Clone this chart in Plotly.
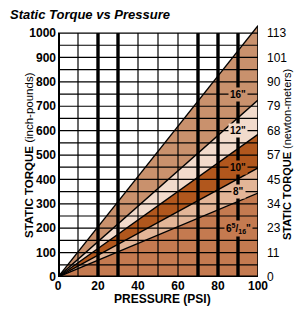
import plotly.graph_objects as go

# ---- data ----
pressure_psi = [0, 100]
sizes = ['16"', '12"', '10"', '8"', '6<sup>5</sup>/<sub>16</sub>"']
torque_at_100psi = [1030, 725, 585, 447, 344]          # in-lb at 100 psi
band_colors = ["#C9916D", "#F2DBCC", "#B1571D", "#E3B597", "#C47A50"]
label_psi = 90
label_torque = [750, 600, 450, 350, 200]
inlb_ticks = [0, 100, 200, 300, 400, 500, 600, 700, 800, 900, 1000]
nm_ticks = ["0", "11", "23", "34", "45", "57", "68", "79", "90", "101", "113"]
psi_ticks = [0, 20, 40, 60, 80, 100]
thin_v = [10, 40, 50, 60]
thick_v = [20, 30, 70, 80, 90]
h_grid = list(range(50, 1001, 50))

YMAX = 1033
SANS = "Liberation Sans, Arial, Helvetica"

fig = go.Figure()

# bands: draw from the bottom line upward
order = list(range(len(sizes)))[::-1]
for k, i in enumerate(order):
    fig.add_trace(go.Scatter(
        x=pressure_psi, y=[0, torque_at_100psi[i]],
        mode="lines", line=dict(color="black", width=1.4),
        fill="tozeroy" if k == 0 else "tonexty",
        fillcolor=band_colors[i], showlegend=False, hoverinfo="skip"))

# invisible trace for the right axis
fig.add_trace(go.Scatter(x=[None], y=[None], yaxis="y2", showlegend=False,
                         hoverinfo="skip"))

shapes = []
for y in h_grid:
    shapes.append(dict(type="line", layer="above", xref="x", yref="y",
                       x0=0, x1=100, y0=y, y1=y,
                       line=dict(color="black", width=1.2)))
for x in thin_v:
    shapes.append(dict(type="line", layer="above", xref="x", yref="y",
                       x0=x, x1=x, y0=0, y1=1000,
                       line=dict(color="black", width=1.2)))
for x in thick_v:
    shapes.append(dict(type="line", layer="above", xref="x", yref="y",
                       x0=x, x1=x, y0=0, y1=1000,
                       line=dict(color="black", width=3.4)))
# right border (up to top line end)
shapes.append(dict(type="line", layer="above", xref="x", yref="y",
                   x0=100, x1=100, y0=0, y1=torque_at_100psi[0],
                   line=dict(color="black", width=1.6)))
# left & bottom axes
shapes.append(dict(type="line", layer="above", xref="x", yref="y",
                   x0=0, x1=0, y0=0, y1=1000,
                   line=dict(color="black", width=4)))
shapes.append(dict(type="line", layer="above", xref="x", yref="y",
                   x0=0, x1=100, y0=0, y1=0,
                   line=dict(color="black", width=3)))

annotations = []
for i, s in enumerate(sizes):
    annotations.append(dict(x=label_psi, y=label_torque[i], xref="x", yref="y",
                            text=s, showarrow=False, bgcolor=band_colors[i],
                            borderpad=1,
                            font=dict(family=SANS, size=10, color="black", weight="bold")))
annotations += [
    dict(text="<b>STATIC TORQUE</b> (inch-pounds)", textangle=-90,
         xref="paper", yref="paper", x=-0.185, y=0.484, showarrow=False,
         font=dict(family=SANS, size=11.5, color="black")),
    dict(text="<b>STATIC TORQUE</b> (newton-meters)", textangle=-90,
         xref="paper", yref="paper", x=1.185, y=0.484, showarrow=False,
         font=dict(family=SANS, size=11, color="black")),
    dict(text="<b>PRESSURE (PSI)</b>",
         xref="paper", yref="paper", x=0.52, y=-0.122, showarrow=False,
         font=dict(family=SANS, size=12, color="black")),
]

fig.update_layout(
    width=307, height=313,
    margin=dict(l=58, r=49, t=25, b=36),
    paper_bgcolor="white", plot_bgcolor="white",
    title=dict(text="<b><i>Static Torque vs Pressure</i></b>",
               x=10 / 307, xanchor="left", xref="container",
               y=1 - 14 / 313, yanchor="middle", yref="container",
               font=dict(family=SANS, size=13, color="black")),
    xaxis=dict(range=[0, 100], tickvals=psi_ticks, showgrid=False, zeroline=False,
               showline=False, ticks="", fixedrange=True,
               tickfont=dict(family=SANS, size=12, color="black", weight="bold")),
    yaxis=dict(range=[0, YMAX], tickvals=inlb_ticks, showgrid=False, zeroline=False,
               showline=False, ticks="", ticklabelstandoff=1, fixedrange=True,
               tickfont=dict(family=SANS, size=12, color="black", weight="bold")),
    yaxis2=dict(range=[0, YMAX], overlaying="y", side="right",
                tickvals=inlb_ticks, ticktext=nm_ticks, showgrid=False,
                zeroline=False, showline=False, ticks="", ticklabelstandoff=8,
                fixedrange=True,
                tickfont=dict(family=SANS, size=12, color="black")),
    shapes=shapes, annotations=annotations, showlegend=False,
)

fig.write_html("out.html",
               config={"displayModeBar": False},
               post_script="document.body.style.margin='0';"
                           "document.body.style.overflow='hidden';")
